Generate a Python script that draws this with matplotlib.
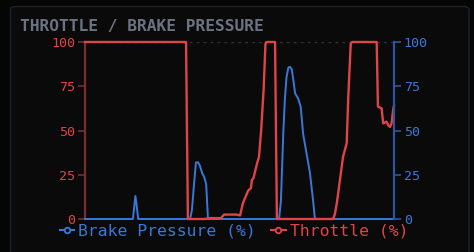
import matplotlib
matplotlib.use("Agg")
import matplotlib.pyplot as plt
from matplotlib.patches import FancyBboxPatch
from matplotlib.lines import Line2D

# ----------------------------------------------------------------
# Data (lap distance in %, values in %)
# ----------------------------------------------------------------
brake_dist = [0, 15.5, 16.0, 16.3, 16.7, 17.2, 34.0, 34.6, 35.3, 35.9, 36.6,
              37.2, 37.9, 38.5, 39.2, 39.5, 39.8, 62.8, 63.4, 64.2, 64.7,
              65.2, 65.8, 66.3, 66.9, 67.3, 68.0, 69.0, 69.8, 70.6, 71.7,
              72.8, 73.9, 74.4, 100]
brake_val = [0, 0, 8, 13, 8, 0, 0, 5, 20, 32, 32,
             30, 26, 24, 20, 10, 0, 0, 10, 50, 68,
             80, 85.5, 86, 84.7, 80, 71, 68, 63.5, 48, 37,
             26, 9, 0, 0]

throttle_dist = [0, 32.7, 33.3, 38.8, 40.5, 44.0, 45.0, 48.9, 50.2, 51.1,
                 52.8, 53.7, 54.0, 54.5, 55.7, 56.3, 57.0, 57.8, 58.4, 58.7,
                 61.5, 62.1, 80.3, 80.9, 81.5, 82.5, 83.5, 84.7, 85.2, 86.0,
                 86.4, 94.4, 94.8, 96.0, 96.5, 97.6, 98.1, 98.7, 99.2, 99.8,
                 100]
throttle_val = [100, 100, 0, 0, 0.5, 0.5, 2.5, 2.5, 2, 9,
                16, 17.5, 22, 23, 31.5, 35, 50, 73, 99, 100,
                100, 0, 0, 3, 9, 22, 35, 43, 69, 99,
                100, 100, 63.5, 62.5, 54, 55, 53, 52, 54, 62.5,
                64]

y_ticks = [0, 25, 50, 75, 100]

# ----------------------------------------------------------------
# Style
# ----------------------------------------------------------------
BG_OUT = "#050505"
BG_PANEL = "#0a0a0a"
BORDER = "#1c222c"
RED = "#e04448"
BLUE = "#3a78d6"
TITLE = "#6b7280"
MONO = "DejaVu Sans Mono"

W, H = 474, 252
fig = plt.figure(figsize=(W / 100, H / 100), dpi=100, facecolor=BG_OUT)

panel = FancyBboxPatch((10.5 / W, -0.05), 458.5 / W, 1.05 - 6.5 / H,
                       boxstyle="round,pad=0,rounding_size=0.012",
                       transform=fig.transFigure, facecolor=BG_PANEL,
                       edgecolor=BORDER, linewidth=1.0, zorder=-5)
fig.patches.append(panel)

fig.text(20 / W, 1 - 27 / H, "THROTTLE / BRAKE PRESSURE", color=TITLE,
         fontfamily=MONO, fontweight="bold", fontsize=11.7, va="center", ha="left")

ax = fig.add_axes([85 / W, 1 - 219 / H, 309 / W, 177 / H])
ax.set_facecolor("none")
ax2 = ax.twinx()

ax.plot(brake_dist, brake_val, color=BLUE, lw=1.4, clip_on=False, zorder=3)
ax.plot(throttle_dist, throttle_val, color=RED, lw=1.7, clip_on=False, zorder=4)
ax.axhline(100, color="#2e3338", lw=1.0, ls=(0, (2, 3)), zorder=1)

for a in (ax, ax2):
    a.set_xlim(0, 100)
    a.set_ylim(0, 100)
    a.set_yticks(y_ticks)
    a.set_xticks([])
    for s in a.spines.values():
        s.set_visible(False)

ax.spines["left"].set_visible(True)
ax.spines["left"].set_color("#7a2c2e")
ax.spines["left"].set_linewidth(1.6)
ax.tick_params(axis="y", colors="#7a2c2e", labelcolor=RED, length=5, width=1.2,
               labelsize=9.6, pad=2)
ax2.spines["right"].set_visible(True)
ax2.spines["right"].set_color("#2c56a0")
ax2.spines["right"].set_linewidth(1.6)
ax2.tick_params(axis="y", colors="#2c56a0", labelcolor=BLUE, length=5, width=1.2,
                labelsize=9.6, pad=2)
for lab in ax.get_yticklabels() + ax2.get_yticklabels():
    lab.set_fontfamily(MONO)

handles = [
    Line2D([], [], color=BLUE, lw=1.5, marker="o", ms=4,
           markerfacecolor=BG_PANEL, markeredgewidth=1.3),
    Line2D([], [], color=RED, lw=1.5, marker="o", ms=4,
           markerfacecolor=BG_PANEL, markeredgewidth=1.3),
]
leg = fig.legend(handles, ["Brake Pressure (%)", "Throttle (%)"],
                 loc="center", bbox_to_anchor=(234 / W, 1 - 231 / H), ncol=2,
                 frameon=False, handlelength=0.9, handletextpad=0.25,
                 columnspacing=0.9, borderaxespad=0, borderpad=0,
                 prop={"family": MONO, "size": 11.8})
for t, c in zip(leg.get_texts(), [BLUE, RED]):
    t.set_color(c)

fig.savefig("out.png", dpi=100, facecolor=BG_OUT)
